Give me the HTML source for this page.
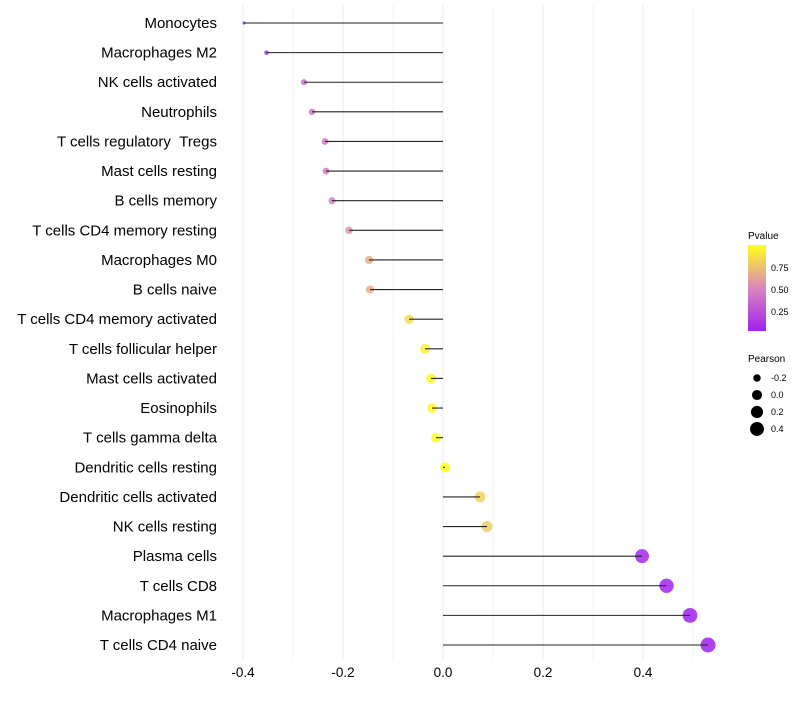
<!DOCTYPE html>
<html><head><meta charset="utf-8"><style>
body{margin:0;background:#fff;font-family:"Liberation Sans",sans-serif}
</style></head><body>
<svg id="chart" width="800" height="700" xmlns="http://www.w3.org/2000/svg">
<defs><linearGradient id="pg" x1="0" y1="1" x2="0" y2="0">
<stop offset="0" stop-color="#a020f0"/><stop offset="0.5" stop-color="#d987bd"/><stop offset="1" stop-color="#ffff1a"/></linearGradient></defs>
<g id="grid"></g>
<g id="marks"></g>
<g id="ylab"></g>
<g id="xlab"></g>
<g font-size="10">
<text x="748" y="239" fill="#000">Pvalue</text>
<rect x="748" y="245" width="18" height="86" fill="url(#pg)"/>
<text x="771" y="271" font-size="9">0.75</text>
<text x="771" y="293" font-size="9">0.50</text>
<text x="771" y="315" font-size="9">0.25</text>
</g>
<g id="sleg" font-size="10">
<text x="748" y="362">Pearson</text>
</g>
</svg>
<script>
const categories=["Monocytes","Macrophages M2","NK cells activated","Neutrophils","T cells regulatory \u00a0Tregs","Mast cells resting","B cells memory","T cells CD4 memory resting","Macrophages M0","B cells naive","T cells CD4 memory activated","T cells follicular helper","Mast cells activated","Eosinophils","T cells gamma delta","Dendritic cells resting","Dendritic cells activated","NK cells resting","Plasma cells","T cells CD8","Macrophages M1","T cells CD4 naive"];
const pearson=[-0.398,-0.353,-0.278,-0.262,-0.236,-0.234,-0.222,-0.188,-0.148,-0.146,-0.068,-0.036,-0.024,-0.022,-0.014,0.004,0.074,0.088,0.398,0.447,0.494,0.530];
const pvalue=[0.05,0.12,0.38,0.42,0.45,0.45,0.47,0.57,0.66,0.66,0.83,0.92,0.95,0.95,0.97,0.99,0.80,0.77,0.05,0.04,0.02,0.01];
const xTicks=[-0.4,-0.2,0.0,0.2,0.4];
const xTickLabels=["-0.4","-0.2","0.0","0.2","0.4"];
const sizeLegend=[-0.2,0.0,0.2,0.4];
const NS="http://www.w3.org/2000/svg";
const xs=v=>443+v*500;
const ys=i=>23+i*(622/21);
const rs=v=>Math.sqrt(2.25+Math.max(0,v+0.4)*58);
function lerp(a,b,t){return a.map((x,i)=>Math.round(x+(b[i]-x)*t));}
function col(p){const s=[[160,32,240],[217,135,189],[255,255,26]];const t=Math.max(0,Math.min(1,(p-0.02)/0.96));
const c=t<0.5?lerp(s[0],s[1],t*2):lerp(s[1],s[2],(t-0.5)*2);return `rgb(${c})`;}
function mk(tag,at,parent){const e=document.createElementNS(NS,tag);for(const k in at)e.setAttribute(k,at[k]);parent.appendChild(e);return e;}
const grid=document.getElementById('grid'),marks=document.getElementById('marks'),ylab=document.getElementById('ylab'),xlab=document.getElementById('xlab'),sleg=document.getElementById('sleg');
for(let v=-0.4;v<=0.51;v+=0.1){const l=mk('line',{x1:xs(v),x2:xs(v),y1:5,y2:660,stroke:'#ebebeb','stroke-width':Math.abs(Math.round(v*10))%2==0?1:0.6},grid);

}
xTicks.forEach((v,i)=>{const t=mk('text',{x:xs(v),y:677,'text-anchor':'middle','font-size':13.5,fill:'#000'},xlab);t.textContent=xTickLabels[i];

});
categories.forEach((c,i)=>{const y=ys(i);
const t=mk('text',{x:217,y:y+5,'text-anchor':'end','font-size':15,fill:'#000'},ylab);t.textContent=c;


const d=mk('circle',{cx:xs(pearson[i]),cy:y,r:rs(pearson[i]),fill:col(pvalue[i]),opacity:0.85},marks);


const l=mk('line',{x1:xs(0),x2:xs(pearson[i]),y1:y,y2:y,stroke:'#222','stroke-width':1.1},marks);

});
sizeLegend.forEach((v,i)=>{const y=378+i*17;
const c=mk('circle',{cx:757,cy:y,r:rs(v),fill:'#000'},sleg);


const t=mk('text',{x:771,y:y+3,'font-size':9},sleg);t.textContent=v.toFixed(1);

});
</script>
</body></html>
